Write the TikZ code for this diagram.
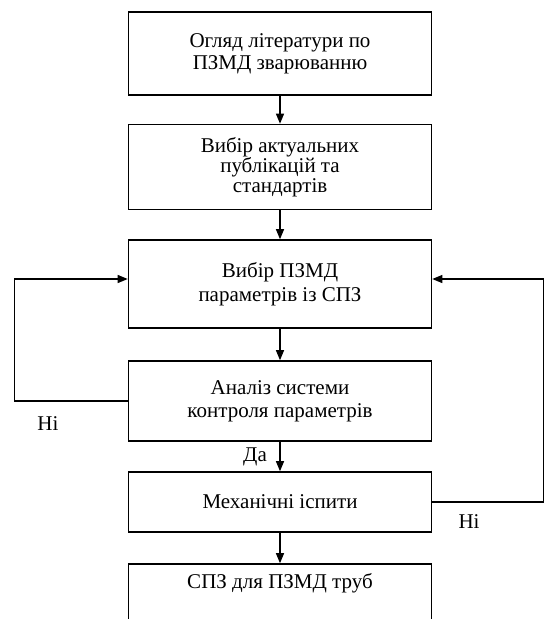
\documentclass[tikz,border=0pt]{standalone}
\usepackage{fontspec}
\setmainfont{Liberation Serif}
\usetikzlibrary{arrows.meta}
\begin{document}
\begin{tikzpicture}[x=1pt,y=1pt,
  box/.style={draw, line width=1.6pt, minimum width=303pt, inner sep=0pt, align=center},
  fs/.style={font=\fontsize{21}{#1}\selectfont},
  arr/.style={line width=1.1pt, -{Triangle[length=10pt,width=8pt]}},
  lbl/.style={font=\fontsize{21}{20}\selectfont, inner sep=0pt}]
\clip (0,0) rectangle (544,-619);
\useasboundingbox (0,0) rectangle (544,-619);
\node[box, fs=22, minimum height=83pt] (b1) at (280,-53.5) {Огляд літератури по\\ПЗМД зварюванню};
\node[box, fs=20, minimum height=85pt] (b2) at (280,-167) {Вибір актуальних\\публікацій та\\стандартів};
\node[box, fs=24, minimum height=88pt] (b3) at (280,-284) {Вибір ПЗМД\\параметрів із СПЗ};
\node[box, fs=23, minimum height=80pt] (b4) at (280,-401) {Аналіз системи\\контроля параметрів};
\node[box, fs=20, minimum height=60pt] (b5) at (280,-502) {Механічні іспити};
\node[box, minimum height=80pt] (b6) at (280,-604) {};
\node[lbl] (t6) at (280,-583) {СПЗ для ПЗМД труб};
\draw[arr] (b1) -- (b2);
\draw[arr] (b2) -- (b3);
\draw[arr] (b3) -- (b4);
\draw[arr] (b4) -- (b5);
\draw[arr] (b5) -- (b6);
\draw[arr] (b4.west) -- ++(-113,0) |- ([yshift=5pt]b3.west);
\draw[arr] (b5.east) -- ++(111.5,0) |- ([yshift=5pt]b3.east);
\node[lbl] (n1) at (48,-424) {Ні};
\node[lbl] (n2) at (469,-521.5) {Ні};
\node[lbl] (d1) at (255,-457) {Да};
\end{tikzpicture}
\end{document}
